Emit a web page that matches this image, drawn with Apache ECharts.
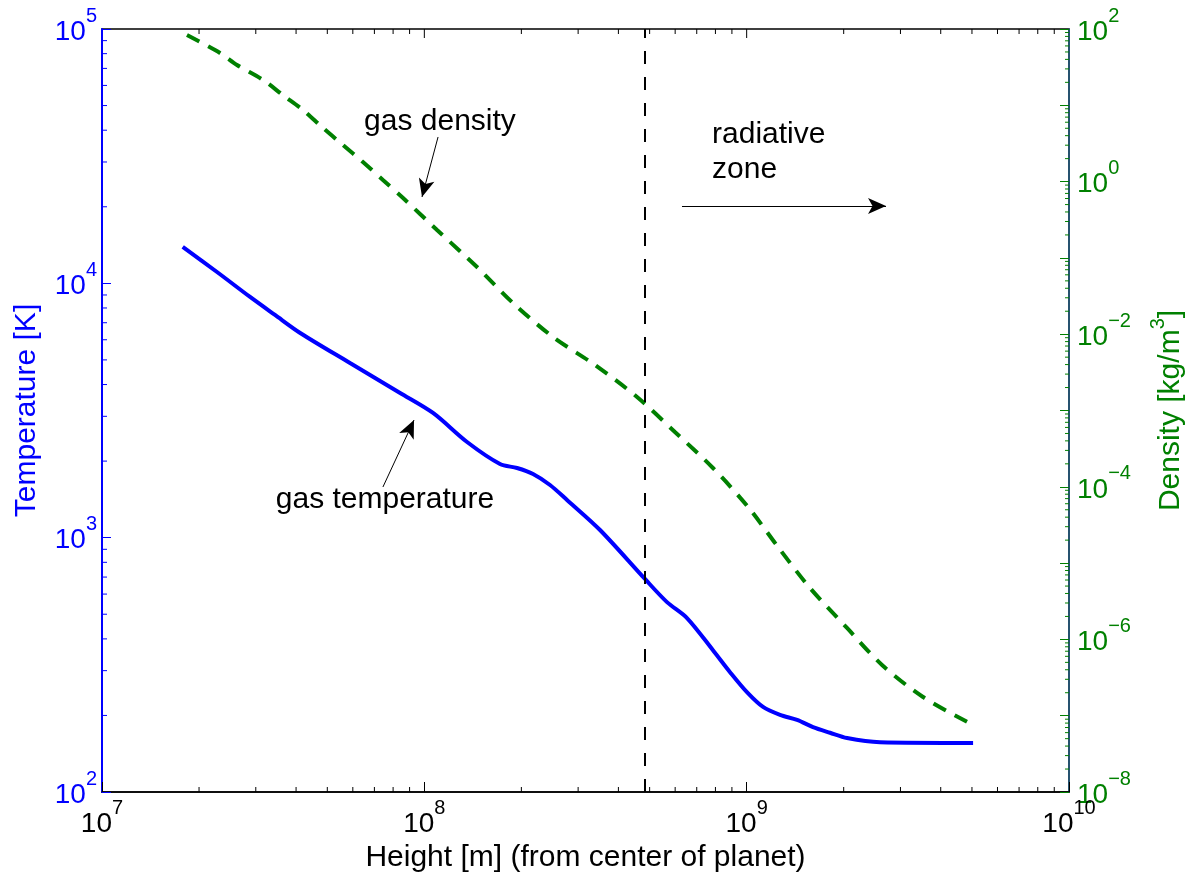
<!DOCTYPE html>
<html>
<head>
<meta charset="utf-8">
<script src="https://cdn.jsdelivr.net/npm/echarts@6/dist/echarts.min.js"></script>
<style>html,body{margin:0;padding:0;background:#fff}#c{width:1191px;height:879px}</style>
</head>
<body>
<div id="c"></div>
<script>
// ---- data ----
const heightT = [1.78e7, 2.274e7, 2.88e7, 3.441e7, 4.12e7, 5.88e7, 8.41e7, 1.064e8, 1.357e8, 1.717e8, 1.939e8, 2.174e8, 2.454e8, 2.771e8, 3.508e8, 4.836e8, 5.66e8, 6.53e8, 7.86e8, 8.88e8, 1.002e9, 1.124e9, 1.269e9, 1.433e9, 1.606e9, 1.814e9, 2.048e9, 2.592e9, 5.04e9];
const temperature = [13900, 11080, 8840, 7510, 6380, 4860, 3705, 3092, 2377, 1948, 1879, 1780, 1611, 1407, 1072, 688, 558, 483, 361, 296, 247, 216, 201, 192, 180, 171, 163, 157, 156];
const heightD = [1.835e7, 2.323e7, 2.623e7, 3.159e7, 3.643e7, 4.204e7, 4.85e7, 5.593e7, 6.45e7, 7.44e7, 8.59e7, 1.095e8, 1.457e8, 1.884e8, 2.507e8, 3.384e8, 4.57e8, 5.99e8, 7.86e8, 1.01e9, 1.251e9, 1.572e9, 2.048e9, 2.63e9, 3.525e9, 5.04e9];
const density = [83.4, 48.5, 33.8, 21.5, 13.6, 8.68, 5.04, 3.017, 1.807, 1.05, 0.610, 0.232, 0.0760, 0.02564, 0.00919, 0.00395, 0.001503, 5.23e-4, 1.764e-4, 5.44e-5, 1.626e-5, 4.72e-6, 1.411e-6, 4.62e-7, 1.758e-7, 7.55e-8];
const radiativeBoundary = 4.84e8;

// axis ranges
const xRange = [1e7, 1e10];
const tRange = [1e2, 1e5];
const dRange = [1e-8, 1e2];

// minor tick values
const minorMult = [2, 3, 4, 5, 6, 7, 8, 9];
const xDecades = [1e7, 1e8, 1e9];
const tDecades = [1e2, 1e3, 1e4];
const dDecades = [1e-8, 1e-7, 1e-6, 1e-5, 1e-4, 1e-3, 1e-2, 1e-1, 1e0, 1e1];
const xMajorTop = [1e8, 1e9];

// annotations: [x, temperature-axis y]
const txtGasDensity = [1.118e8, 43090];
const arrowGasDensity = [[1.103e8, 37620], [9.835e7, 21850]];
const txtGasTemp = [7.55e7, 1407];
const arrowGasTemp = [[7.44e7, 1582], [9.29e7, 2900]];
const txtRadiative = [7.81e8, 32840];
const arrowRadiative = [[6.30e8, 20140], [2.706e9, 20140]];

// ---- chart ----
const FONT = "'Liberation Sans', Arial, Helvetica, sans-serif";
const BLUE = '#0000ff', GREEN = '#008000';

function expOf(v) { return Math.round(Math.log10(v)); }
function pow10Label(v) {
  const e = expOf(v);
  const s = e < 0 ? '\u2212' + (-e) : String(e);
  return '{b|10}{s|' + s + '}';
}
function pow10LabelEven(v) {
  return expOf(v) % 2 === 0 ? pow10Label(v) : '';
}
function rich(color) {
  return {
    b: {fontSize: 28, lineHeight: 40, verticalAlign: 'bottom', color: color, fontFamily: FONT},
    s: {fontSize: 20, lineHeight: 14, verticalAlign: 'top', color: color, fontFamily: FONT}
  };
}

const xMinor = [];
xDecades.forEach(d => minorMult.forEach(m => xMinor.push([d * m, tRange[0]])));
const tMinor = [];
tDecades.forEach(d => minorMult.forEach(m => tMinor.push([xRange[0], d * m])));
const dMinor = [];
dDecades.forEach(d => minorMult.forEach(m => dMinor.push([xRange[1], d * m])));

function tickSeries(data, yAxisIndex, kind) {
  return {
    type: 'custom', xAxisIndex: 0, yAxisIndex: yAxisIndex, silent: true, z: 10, clip: false,
    data: data,
    renderItem: function (params, api) {
      const x = api.value(0), y = api.value(1);
      const st = {stroke: '#000', lineWidth: 1};
      if (kind === 'x' || kind === 'xTop') {
        const len = kind === 'x' ? 5 : 9;
        const pb = api.coord([x, tRange[0]]);
        const pt = api.coord([x, tRange[1]]);
        const ch = [{type: 'line', shape: {x1: pt[0], y1: pt[1], x2: pt[0], y2: pt[1] + len}, style: st}];
        if (kind === 'x') ch.push({type: 'line', shape: {x1: pb[0], y1: pb[1], x2: pb[0], y2: pb[1] - len}, style: st});
        return {type: 'group', children: ch};
      }
      const p = api.coord([x, y]);
      if (kind === 'tl') {
        return {type: 'line', shape: {x1: p[0], y1: p[1], x2: p[0] + 5, y2: p[1]}, style: {stroke: BLUE, lineWidth: 1}};
      }
      return {type: 'line', shape: {x1: p[0], y1: p[1], x2: p[0] - 4, y2: p[1]}, style: {stroke: GREEN, lineWidth: 1}};
    }
  };
}

const option = {
  animation: false,
  backgroundColor: '#fff',
  textStyle: {fontFamily: FONT},
  grid: {left: 102, right: 122, top: 29, bottom: 87, show: true, borderColor: '#000', borderWidth: 1.5,
         backgroundColor: 'transparent', containLabel: false, outerBoundsMode: 'none'},
  xAxis: {
    type: 'log', logBase: 10, min: xRange[0], max: xRange[1], interval: 1,
    name: 'Height [m] (from center of planet)', nameLocation: 'middle', nameGap: 44,
    nameTextStyle: {fontSize: 30, color: '#000', fontFamily: FONT},
    axisLine: {lineStyle: {color: '#000', width: 1.5}},
    axisTick: {inside: true, length: 10, lineStyle: {color: '#000'}},
    axisLabel: {formatter: pow10Label, rich: rich('#000'), margin: 6},
    splitLine: {show: false}
  },
  yAxis: [{
    type: 'log', logBase: 10, min: tRange[0], max: tRange[1], interval: 1,
    name: 'Temperature [K]', nameLocation: 'middle', nameGap: 60, nameRotate: 90,
    nameTextStyle: {fontSize: 30, color: BLUE, fontFamily: FONT},
    axisLine: {lineStyle: {color: BLUE, width: 2}},
    axisTick: {inside: true, length: 9, lineStyle: {color: BLUE}},
    axisLabel: {formatter: pow10Label, rich: rich(BLUE), margin: 5, padding: [0, 0, 6, 0]},
    splitLine: {show: false}
  }, {
    type: 'log', logBase: 10, min: dRange[0], max: dRange[1], interval: 1, position: 'right',
    name: '{n|Density [kg/m}{s|3}{n|]}', nameLocation: 'middle', nameGap: 79, nameRotate: 90,
    nameTextStyle: {color: GREEN, rich: {
      n: {fontSize: 30, lineHeight: 38, verticalAlign: 'bottom', color: GREEN, fontFamily: FONT},
      s: {fontSize: 20, lineHeight: 14, verticalAlign: 'top', color: GREEN, fontFamily: FONT}
    }},
    axisLine: {lineStyle: {color: '#1f5a80', width: 1.5}},
    axisTick: {inside: true, length: 9, interval: 0, lineStyle: {color: GREEN}},
    axisLabel: {formatter: pow10LabelEven, rich: rich(GREEN), margin: 8, padding: [0, 0, 6, 0]},
    splitLine: {show: false}
  }],
  series: [{
    name: 'gas temperature', type: 'line', yAxisIndex: 0, smooth: 0.3, showSymbol: false, symbol: 'none',
    lineStyle: {color: BLUE, width: 4},
    data: heightT.map((h, i) => [h, temperature[i]]),
    markLine: {
      silent: true, animation: false, symbol: ['none', 'arrow'], symbolSize: [12, 18],
      label: {show: false},
      lineStyle: {color: '#000', width: 1, type: 'solid'},
      data: [
        [{coord: arrowGasDensity[0]}, {coord: arrowGasDensity[1]}],
        [{coord: arrowGasTemp[0]}, {coord: arrowGasTemp[1]}],
        [{coord: arrowRadiative[0]}, {coord: arrowRadiative[1]}],
        [{coord: [radiativeBoundary, tRange[0]], symbol: 'none'}, {coord: [radiativeBoundary, tRange[1]], symbol: 'none', lineStyle: {type: [13, 13], width: 2, color: '#000'}}]
      ]
    },
    markPoint: {
      silent: true, animation: false, symbol: 'circle', symbolSize: 0,
      label: {show: true, color: '#000', fontSize: 30, fontFamily: FONT},
      data: [
        {coord: txtGasDensity, label: {position: 'inside', formatter: 'gas density'}},
        {coord: txtGasTemp, label: {position: 'inside', formatter: 'gas temperature'}},
        {coord: txtRadiative, label: {position: 'right', distance: 0, formatter: 'radiative\nzone', lineHeight: 35, align: 'left'}}
      ]
    }
  }, {
    name: 'gas density', type: 'line', yAxisIndex: 1, smooth: 0.3, showSymbol: false, symbol: 'none',
    lineStyle: {color: GREEN, width: 4, type: [14, 10]},
    data: heightD.map((h, i) => [h, density[i]])
  },
  tickSeries(xMinor, 0, 'x'),
  tickSeries(xMajorTop.map(v => [v, tRange[0]]), 0, 'xTop'),
  tickSeries(tMinor, 0, 'tl'),
  tickSeries(dMinor, 1, 'dr')
  ]
};

const chart = echarts.init(document.getElementById('c'), null, {renderer: 'canvas'});
chart.setOption(option);
</script>
</body>
</html>
